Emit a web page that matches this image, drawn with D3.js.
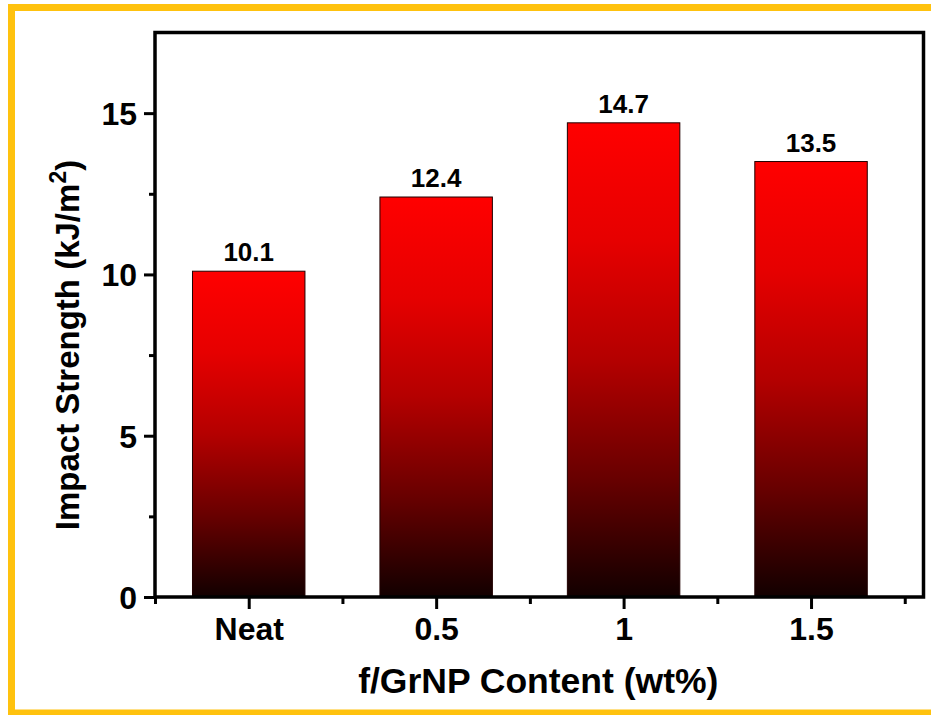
<!DOCTYPE html>
<html>
<head>
<meta charset="utf-8">
<script src="https://cdn.jsdelivr.net/npm/d3@7"></script>
<style>
  body { margin: 0; background: #fff; }
  svg { display: block; font-family: Arial, "Liberation Sans", sans-serif; }
</style>
</head>
<body>
<svg id="chart"></svg>
<script>
const categories = ["Neat", "0.5", "1", "1.5"];
const impactStrength = [10.1, 12.4, 14.7, 13.5];
const valueLabels = ["10.1", "12.4", "14.7", "13.5"];
const yTicks = [0, 5, 10, 15];

let svgWidth = 931;
let svgHeight = 715;
let margin = {top: 32.5, right: 7.5, bottom: 118, left: 155};

const svg = d3.select("#chart")
    .attr("width", svgWidth)
    .attr("height", svgHeight);

// yellow frame (top, left, bottom)
svg.append("path")
    .attr("d", "M931,7.5 L11.5,7.5 L11.5,713 L931,713")
    .attr("fill", "none")
    .attr("stroke", "#ffc20e")
    .attr("stroke-width", 7);

const x0 = margin.left, x1 = svgWidth - margin.right;
const y0 = svgHeight - margin.bottom, y1 = margin.top;

// categories sit at 1..4, frame runs a bit past the last boundary
const xScale = d3.scaleLinear().domain([0.5, 4.6]).range([x0, x1]);
const yScale = d3.scaleLinear().domain([0, 17.5]).range([y0, y1]);

const defs = svg.append("defs");
const grad = defs.append("linearGradient")
    .attr("id", "barGrad")
    .attr("x1", 0).attr("y1", 0).attr("x2", 0).attr("y2", 1);
[["0%", "#ff0000"], ["25%", "#e60000"], ["50%", "#b40000"], ["75%", "#680000"], ["100%", "#120000"]]
    .forEach(s => grad.append("stop").attr("offset", s[0]).attr("stop-color", s[1]));

const barW = 0.6;

svg.selectAll(".bar")
    .data(impactStrength)
    .join("rect")
    .attr("class", "bar")
    .attr("x", (d, i) => xScale(i + 1 - barW / 2))
    .attr("width", (d, i) => xScale(i + 1 + barW / 2) - xScale(i + 1 - barW / 2))
    .attr("y", d => yScale(d))
    .attr("height", d => yScale(0) - yScale(d))
    .attr("fill", "url(#barGrad)")
    .attr("stroke", "#200000")
    .attr("stroke-width", 1);

svg.selectAll(".val")
    .data(impactStrength)
    .join("text")
    .attr("class", "val")
    .attr("x", (d, i) => xScale(i + 1))
    .attr("y", d => yScale(d) - 10)
    .attr("text-anchor", "middle")
    .attr("font-size", 26)
    .attr("font-weight", "bold")
    .text((d, i) => valueLabels[i]);

// y axis
const yAxis = svg.append("g")
    .attr("transform", `translate(${x0},0)`)
    .call(d3.axisLeft(yScale).tickValues(yTicks).tickSize(11).tickPadding(7).tickFormat(d3.format("d")));
yAxis.select(".domain").remove();
yAxis.selectAll(".tick line").attr("stroke", "#000").attr("stroke-width", 3);
yAxis.selectAll(".tick text")
    .attr("font-size", 32).attr("font-weight", "bold").attr("fill", "#000")
    .attr("font-family", "Arial, 'Liberation Sans', sans-serif")
    .attr("dy", "0.36em");

const yMinor = svg.append("g")
    .attr("transform", `translate(${x0},0)`)
    .call(d3.axisLeft(yScale).tickValues([2.5, 7.5, 12.5]).tickSize(6).tickFormat(""));
yMinor.select(".domain").remove();
yMinor.selectAll(".tick line").attr("stroke", "#000").attr("stroke-width", 3);

// x axis
const xAxis = svg.append("g")
    .attr("transform", `translate(0,${y0})`)
    .call(d3.axisBottom(xScale).tickValues([1, 2, 3, 4]).tickSize(12).tickPadding(8)
        .tickFormat((d, i) => categories[i]));
xAxis.select(".domain").remove();
xAxis.selectAll(".tick line").attr("stroke", "#000").attr("stroke-width", 3);
xAxis.selectAll(".tick text")
    .attr("font-size", 32).attr("font-weight", "bold").attr("fill", "#000")
    .attr("font-family", "Arial, 'Liberation Sans', sans-serif");

const xMinor = svg.append("g")
    .attr("transform", `translate(0,${y0})`)
    .call(d3.axisBottom(xScale).tickValues([0.5, 1.5, 2.5, 3.5, 4.5]).tickSize(7).tickFormat(""));
xMinor.select(".domain").remove();
xMinor.selectAll(".tick line").attr("stroke", "#000").attr("stroke-width", 3);

// plot frame
svg.append("rect")
    .attr("x", x0).attr("y", y1)
    .attr("width", x1 - x0).attr("height", y0 - y1)
    .attr("fill", "none")
    .attr("stroke", "#000")
    .attr("stroke-width", 3.5);

// axis titles
svg.append("text")
    .attr("x", (x0 + x1) / 2 - 1)
    .attr("y", 693)
    .attr("text-anchor", "middle")
    .attr("font-size", 35.5)
    .attr("font-weight", "bold")
    .text("f/GrNP Content (wt%)");

const yTitle = svg.append("text")
    .attr("transform", `translate(79,345) rotate(-90)`)
    .attr("text-anchor", "middle")
    .attr("font-size", 33)
    .attr("font-weight", "bold");
yTitle.append("tspan").text("Impact Strength (kJ/m");
yTitle.append("tspan").attr("font-size", 23).attr("dy", -13).text("2");
yTitle.append("tspan").attr("dy", 13).text(")");
</script>
</body>
</html>
